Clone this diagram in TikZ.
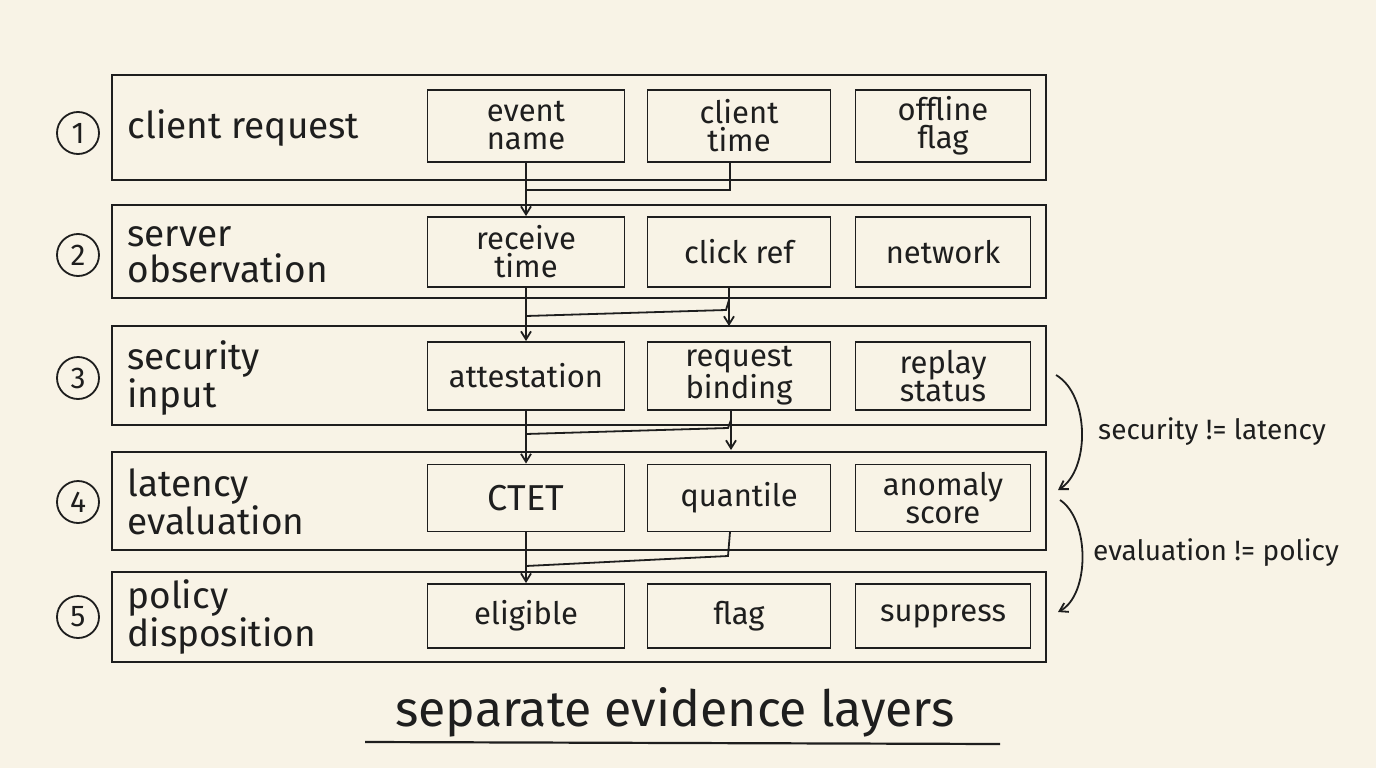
\documentclass[tikz,border=0pt]{standalone}
\usepackage{fontspec}
\setmainfont{Fira Sans}
\usetikzlibrary{arrows.meta}
\definecolor{bg}{HTML}{F8F3E6}
\definecolor{ink}{HTML}{1E1E1E}
\begin{document}
\begin{tikzpicture}[x=1pt,y=-1pt,
  outer/.style={draw=ink,line width=2pt,inner sep=0pt},
  inner/.style={draw=ink,line width=1.9pt,inner sep=0pt,align=center,font=\fontsize{31}{28}\selectfont,text=ink},
  lab/.style={anchor=west,align=left,font=\fontsize{37}{36}\selectfont,text=ink},
  num/.style={circle,draw=ink,line width=1.8pt,minimum size=42pt,inner sep=0pt,font=\fontsize{30}{30}\selectfont,text=ink},
  arr/.style={draw=ink,line width=1.8pt,-{Straight Barb[length=8pt,width=10pt]}},
  ln/.style={draw=ink,line width=1.8pt},
  note/.style={font=\fontsize{28}{28}\selectfont,text=ink}]
\fill[bg] (0,0) rectangle (1376,768);
\useasboundingbox (0,0) rectangle (1376,768);
\foreach \i/\a/\b in {1/75/180,2/205/298,3/326/425,4/452/550,5/572/662}{
  \draw[outer] (112,\a) rectangle (1046,\b);
}
\node[num] (n1) at (78,133) {1};
\node[num] (n2) at (78,255) {2};
\node[num] (n3) at (78,378) {3};
\node[num] (n4) at (78,502) {4};
\node[num] (n5) at (78,617) {5};
\node[lab] (l1) at (124,128) {client request};
\node[lab] (l2) at (124,255) {server\\observation};
\node[lab] (l3) at (124,378) {security\\input};
\node[lab] (l4) at (124,502) {latency\\evaluation};
\node[lab] (l5) at (124,617) {policy\\disposition};
\newcommand\bx[6]{\node[inner,minimum width=#4pt,minimum height=#5pt] (#1) at (#2,#3) {#6};}
\bx{a1}{526}{126}{197}{72}{event\\name}
\bx{b1}{739}{126}{183}{72}{client\\time}
\bx{c1}{943}{126}{175}{72}{offline\\flag}
\bx{a2}{526}{252}{197}{70}{receive\\time}
\bx{b2}{739}{252}{183}{70}{click ref}
\bx{c2}{943}{252}{175}{70}{network}
\bx{a3}{526}{376}{197}{68}{attestation}
\bx{b3}{739}{376}{183}{68}{request\\binding}
\bx{c3}{943}{376}{175}{68}{replay\\status}
\bx{a4}{526}{498}{197}{67}{\fontsize{36}{36}\selectfont CTET}
\bx{b4}{739}{498}{183}{67}{quantile}
\bx{c4}{943}{498}{175}{67}{anomaly\\score}
\bx{a5}{526}{616}{197}{64}{eligible}
\bx{b5}{739}{616}{183}{64}{flag}
\bx{c5}{943}{616}{175}{64}{suppress}
\draw[arr] (a1.south) -- (a2.north);
\draw[ln] (730,162) |- (526,190);
\draw[arr] (a2.south) -- (a3.north);
\draw[arr] (729,287) -- (729,326);
\draw[ln] (729,300) -- (726,310) -- (526,316);
\draw[arr] (a3.south) -- (a4.north);
\draw[arr] (731,410) -- (731,450);
\draw[ln] (731,420) -- (728,428) -- (526,434);
\draw[arr] (a4.south) -- (a5.north);
\draw[ln] (730,532) -- (728,556) -- (526,566);
\coordinate (s1) at (1056,375);
\coordinate (e1) at (1058,490);
\draw[arr] (s1) .. controls (1090,395) and (1090,470) .. (e1);
\node[note] (t1) at (1212,432) {security != latency};
\coordinate (s2) at (1060,500);
\coordinate (e2) at (1058,612);
\draw[arr] (s2) .. controls (1090,520) and (1090,595) .. (e2);
\node[note] (t2) at (1216,553) {evaluation != policy};
\node[font=\fontsize{50}{50}\selectfont,text=ink] (title) at (675,712) {separate evidence layers};
\draw[ln,line width=2.2pt] (365,742) -- (1000,744);
\end{tikzpicture}
\end{document}
